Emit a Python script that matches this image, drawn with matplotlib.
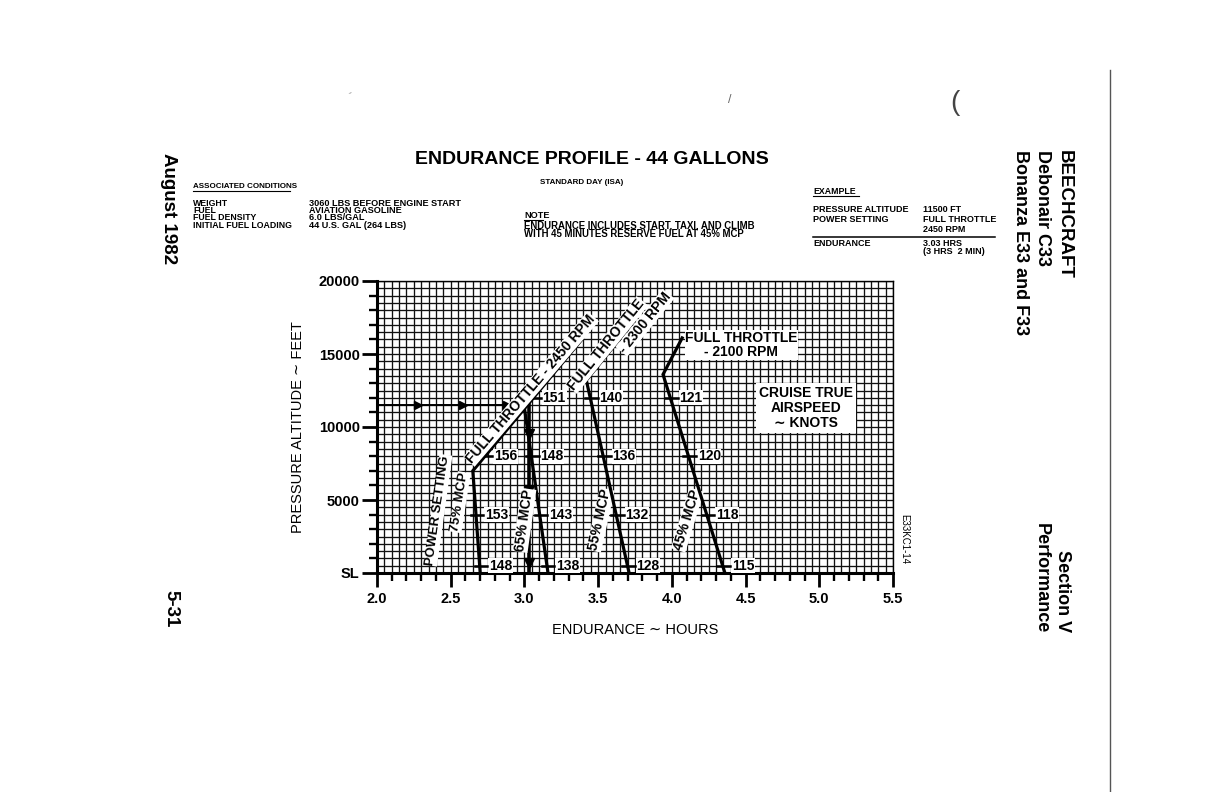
import numpy as np
import matplotlib
matplotlib.use("Agg")
import matplotlib.pyplot as plt
from matplotlib.lines import Line2D

plt.rcParams['font.family'] = ['Liberation Sans', 'DejaVu Sans']

# ---------------- data ----------------
x_ticks = [2.0, 2.5, 3.0, 3.5, 4.0, 4.5, 5.0, 5.5]
x_tick_labels = ["2.0", "2.5", "3.0", "3.5", "4.0", "4.5", "5.0", "5.5"]
y_ticks = [0, 5000, 10000, 15000, 20000]
y_tick_labels = ["SL", "5000", "10000", "15000", "20000"]

# 75% MCP + full throttle 2450 RPM
h_2450 = [2.70, 2.65, 3.39]
a_2450 = [0, 7000, 16000]
# 65% MCP
h_65 = [3.16, 3.00]
a_65 = [0, 11300]
# 55% MCP + full throttle 2300 RPM
h_2300 = [3.71, 3.42, 3.74]
a_2300 = [0, 13200, 17200]
# 45% MCP + full throttle 2100 RPM
h_2100 = [4.36, 3.94, 4.07]
a_2100 = [0, 13600, 16100]

label_alts = [500, 4000, 8000, 12000]
tas_2450 = [148, 153, 156, 151]
tas_65 = [138, 143, 148]
tas_2300 = [128, 132, 136, 140]
tas_2100 = [115, 118, 120, 121]

# example
ex_alt = 11500
ex_hours = 3.03
ex_h_arrows = [2.28, 2.58, 2.88]
ex_v_arrows = [9500, 5700, 700]

# ---------------- figure ----------------
fig = plt.figure(figsize=(12.24, 7.92), dpi=100)
ax = fig.add_axes([377/1224, 1-573/792, (893-377)/1224, (573-281)/792])
ax.set_xlim(2.0, 5.5)
ax.set_ylim(0, 20000)

# grid
for gx in np.arange(2.0, 5.5001, 0.05):
    ax.axvline(gx, color='#111111', lw=0.95, zorder=0)
for gy in np.arange(0, 20001, 500):
    ax.axhline(gy, color='#111111', lw=0.95, zorder=0)

# curves
for hh, aa in [(h_2450, a_2450), (h_65, a_65), (h_2300, a_2300), (h_2100, a_2100)]:
    ax.plot(hh, aa, color='black', lw=2.3, zorder=6, solid_joinstyle='miter')

def x_on(hh, aa, alt):
    for i in range(len(aa) - 1):
        lo, hi = aa[i], aa[i+1]
        if lo <= alt <= hi:
            t = (alt - lo) / (hi - lo)
            return hh[i] + t * (hh[i+1] - hh[i])
    return hh[-1]

# TAS labels
def put_labels(hh, aa, vals):
    for alt, v in zip(label_alts, vals):
        xline = x_on(hh, aa, alt)
        ax.plot([xline - 0.035, xline + 0.05], [alt, alt], color='black', lw=1.8, zorder=6)
        ax.text(xline + 0.062, alt, str(v), fontsize=10, fontweight='bold', va='center',
                ha='left', zorder=5,
                bbox=dict(facecolor='white', edgecolor='none', pad=0.5))

put_labels(h_2450, a_2450, tas_2450)
put_labels(h_65, a_65, tas_65)
put_labels(h_2300, a_2300, tas_2300)
put_labels(h_2100, a_2100, tas_2100)

# example path
ax.plot([2.0, ex_hours - 0.01], [ex_alt, ex_alt], color='black', lw=1.4, zorder=4)
ax.plot(ex_h_arrows, [ex_alt]*len(ex_h_arrows), ls='none', marker='>', ms=6, color='black', zorder=4)
ax.plot([ex_hours, ex_hours], [ex_alt, 0], color='black', lw=2.6, zorder=4)
ax.plot([ex_hours]*len(ex_v_arrows), ex_v_arrows, ls='none', marker='v', ms=7, color='black', zorder=4)

# line texts (MCP labels sit beside the lines; full-throttle labels cover theirs)
wb = dict(facecolor='white', edgecolor='none', pad=0.4)
tkw = dict(fontsize=10, fontweight='bold', ha='center', va='center', zorder=5, bbox=wb)
ax.text(2.415, 4300, "POWER SETTING", rotation=82, **{**tkw, 'fontsize': 9.5})
ax.text(2.56, 4850, "75% MCP", rotation=81, **{**tkw, 'fontsize': 9.5})
ax.text(3.0, 3600, "65% MCP", rotation=82, **{**tkw, 'zorder': 7})
ax.text(3.515, 3630, "55% MCP", rotation=77.5, **tkw)
ax.text(4.105, 3630, "45% MCP", rotation=73, **tkw)
ftkw = {**tkw, 'zorder': 7}
ax.text(3.045, 12600, "FULL THROTTLE - 2450 RPM", rotation=49.5, **ftkw)
ax.text(3.558, 15620, "FULL THROTTLE", rotation=51, **ftkw)
ax.text(3.818, 17140, "- 2300 RPM", rotation=51, **ftkw)
ax.text(4.09, 15620, "FULL THROTTLE\n- 2100 RPM", fontsize=10, fontweight='bold', ha='left',
        va='center', multialignment='center', zorder=7, bbox=wb, linespacing=1.05)
ax.text(4.91, 11300, "CRUISE TRUE\nAIRSPEED\n\u223c KNOTS", fontsize=10, fontweight='bold',
        ha='center', va='center', zorder=7,
        bbox=dict(facecolor='white', edgecolor='none', pad=2), linespacing=1.1)

# ticks
ax.set_xticks(x_ticks)
ax.set_xticklabels(x_tick_labels, fontsize=10.5, fontweight='bold')
ax.set_xticks(np.arange(2.0, 5.501, 0.1), minor=True)
ax.set_yticks(y_ticks)
ax.set_yticklabels(y_tick_labels, fontsize=10.5, fontweight='bold')
ax.set_yticks(np.arange(0, 20001, 1000), minor=True)
ax.tick_params(axis='x', which='major', direction='out', length=10, width=2.0, pad=4)
ax.tick_params(axis='x', which='minor', direction='out', length=6, width=1.7)
ax.tick_params(axis='y', which='major', direction='out', length=11, width=2.0, pad=1.5)
ax.tick_params(axis='y', which='minor', direction='out', length=6, width=1.7)
for s in ['left', 'bottom']:
    ax.spines[s].set_linewidth(2.2)
for s in ['top', 'right']:
    ax.spines[s].set_linewidth(1.0)

ax.set_xlabel("ENDURANCE \u223c HOURS", fontsize=10.5, labelpad=12)
ax.set_ylabel("PRESSURE ALTITUDE \u223c FEET", fontsize=10.5, labelpad=10)

ax.text(1.012, 0.03, "E33KC1-14", transform=ax.transAxes, rotation=-90, fontsize=7,
        ha='left', va='bottom')

# ---------------- header texts ----------------
def fy(y):
    return 1 - y/792

fig.text(592/1224, fy(160), "ENDURANCE PROFILE - 44 GALLONS", fontsize=14, fontweight='bold',
         ha='center', va='center')
fig.text(582/1224, fy(183), "STANDARD DAY (ISA)", fontsize=5.8, fontweight='bold',
         ha='center', va='center')

fs_row = 6.6
fig.text(193/1224, fy(186), "ASSOCIATED CONDITIONS", fontsize=5.8, fontweight='bold', va='center')
fig.add_artist(Line2D([193/1224, 290/1224], [fy(191), fy(191)], color='black', lw=0.8))
rows_l = [("WEIGHT", "3060 LBS BEFORE ENGINE START"),
          ("FUEL", "AVIATION GASOLINE"),
          ("FUEL DENSITY", "6.0 LBS/GAL"),
          ("INITIAL FUEL LOADING", "44 U.S. GAL (264 LBS)")]
for i, (k, v) in enumerate(rows_l):
    y = 203 + i*7.4
    fig.text(193/1224, fy(y), k, fontsize=6.3, fontweight='bold', va='center')
    fig.text(309/1224, fy(y), v, fontsize=fs_row, fontweight='bold', va='center')

fig.text(524/1224, fy(215), "NOTE", fontsize=6.6, fontweight='bold', va='center')
fig.add_artist(Line2D([524/1224, 543/1224], [fy(219.5), fy(219.5)], color='black', lw=0.8))
fig.text(524/1224, fy(225.5), "ENDURANCE INCLUDES START, TAXI, AND CLIMB", fontsize=6.95,
         fontweight='bold', va='center')
fig.text(524/1224, fy(234), "WITH 45 MINUTES RESERVE FUEL AT 45% MCP", fontsize=6.95,
         fontweight='bold', va='center')

fig.text(813/1224, fy(191), "EXAMPLE", fontsize=6.3, fontweight='bold', va='center')
fig.add_artist(Line2D([813/1224, 859/1224], [fy(196), fy(196)], color='black', lw=0.8))
ex_rows = [(209, "PRESSURE ALTITUDE", "11500 FT"),
           (219, "POWER SETTING", "FULL THROTTLE"),
           (230, "", "2450 RPM"),
           (243, "ENDURANCE", "3.03 HRS"),
           (252, "", "(3 HRS  2 MIN)")]
for y, k, v in ex_rows:
    if k:
        fig.text(813/1224, fy(y), k, fontsize=6.5, fontweight='bold', va='center')
    fig.text(923/1224, fy(y), v, fontsize=6.5, fontweight='bold', va='center')
fig.add_artist(Line2D([813/1224, 995/1224], [fy(236.5), fy(236.5)], color='black', lw=1.1))

# side texts
fig.text(1064/1224, fy(150), "BEECHCRAFT", fontsize=13.5, fontweight='bold', rotation=-90,
         ha='center', va='top')
fig.text(1042/1224, fy(150), "Debonair C33", fontsize=13, fontweight='bold', rotation=-90,
         ha='center', va='top')
fig.text(1020/1224, fy(150), "Bonanza E33 and F33", fontsize=13, fontweight='bold', rotation=-90,
         ha='center', va='top')
fig.text(169/1224, fy(153), "August 1982", fontsize=13.5, fontweight='bold', rotation=-90,
         ha='center', va='top')
fig.text(1063/1224, fy(632), "Section V", fontsize=13, fontweight='bold', rotation=-90,
         ha='center', va='bottom')
fig.text(1041/1224, fy(633), "Performance", fontsize=13, fontweight='bold', rotation=-90,
         ha='center', va='bottom')
fig.text(171/1224, fy(590), "5-31", fontsize=13.5, fontweight='bold', rotation=-90,
         ha='center', va='top')

# page edge / scan marks
fig.add_artist(Line2D([1110/1224, 1110/1224], [fy(70), fy(792)], color='#555555', lw=1.0))
fig.text(955/1224, fy(103), "(", fontsize=20, color='#444444', ha='center', va='center')
fig.text(730/1224, fy(100), "/", fontsize=9, color='#666666', ha='center', va='center')
fig.text(350/1224, fy(93), "-", fontsize=8, color='#888888', ha='center', va='center', rotation=20)

fig.savefig("out.png", dpi=100)
